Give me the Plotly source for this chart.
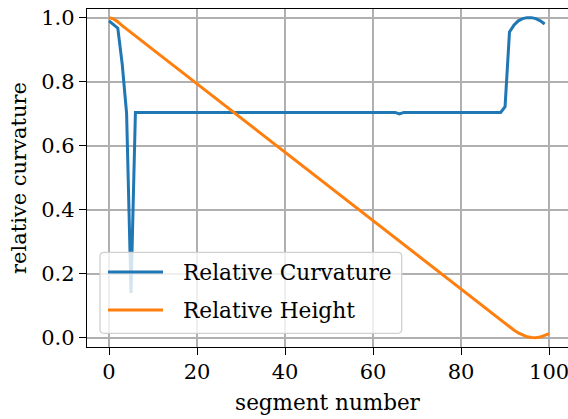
import plotly.graph_objects as go

# Relative curvature per segment
curv_segment = [0, 1, 2, 3, 4, 5, 6, 65, 66, 67, 89, 90, 91, 92, 93, 94, 95, 96, 97, 98, 99]
curv_value = [0.99, 0.979, 0.967, 0.855, 0.70, 0.14, 0.704, 0.704, 0.699, 0.704, 0.704,
              0.722, 0.955, 0.976, 0.99, 0.997, 1.0, 1.0, 0.997, 0.99, 0.98]

# Relative height per segment
height_segment = [0, 1, 2, 3, 10, 20, 30, 40, 50, 60, 70, 80, 90, 92, 93, 94, 95, 96, 97, 98, 99, 100]
height_value = [1.0, 0.996, 0.987, 0.975, 0.900, 0.793, 0.687, 0.580, 0.473, 0.366, 0.259,
                0.153, 0.046, 0.024, 0.015, 0.008, 0.003, 0.0005, 0.0, 0.002, 0.007, 0.013]

x_ticks = [0, 20, 40, 60, 80, 100]
y_ticks = [0.0, 0.2, 0.4, 0.6, 0.8, 1.0]
y_tick_text = ["0.0", "0.2", "0.4", "0.6", "0.8", "1.0"]

series_names = ["Relative Curvature", "Relative Height"]
BLUE = "#1f77b4"
ORANGE = "#ff7f0e"
FONT = "DejaVu Serif"

W, H = 568, 419
ML, MR, MT, MB = 87, 0, 9, 72
PW, PH = W - ML - MR, H - MT - MB

fig = go.Figure()
fig.add_trace(go.Scatter(x=curv_segment, y=curv_value, mode="lines", name=series_names[0],
                         line=dict(color=BLUE, width=3), showlegend=False))
fig.add_trace(go.Scatter(x=height_segment, y=height_value, mode="lines", name=series_names[1],
                         line=dict(color=ORANGE, width=3), showlegend=False))


def px_x(p):
    return (p - ML) / PW


def px_y(p):
    return (H - MB - p) / PH


# legend frame (rounded, translucent)
lx0, lx1, ly0, ly1 = px_x(100), px_x(401.7), px_y(333.3), px_y(252.3)
rx, ry = 4 / PW, 4 / PH
path = (f"M {lx0+rx},{ly0} L {lx1-rx},{ly0} Q {lx1},{ly0} {lx1},{ly0+ry} "
        f"L {lx1},{ly1-ry} Q {lx1},{ly1} {lx1-rx},{ly1} "
        f"L {lx0+rx},{ly1} Q {lx0},{ly1} {lx0},{ly1-ry} "
        f"L {lx0},{ly0+ry} Q {lx0},{ly0} {lx0+rx},{ly0} Z")
shapes = [dict(type="path", path=path, xref="paper", yref="paper", layer="above",
               fillcolor="rgba(255,255,255,0.8)", line=dict(color="#d0d0d0", width=1.3))]
annotations = []
for name, color, yp in [(series_names[0], BLUE, 272), (series_names[1], ORANGE, 310)]:
    shapes.append(dict(type="line", xref="paper", yref="paper", layer="above",
                       x0=px_x(108), x1=px_x(163), y0=px_y(yp), y1=px_y(yp),
                       line=dict(color=color, width=3)))
    annotations.append(dict(text=name, xref="paper", yref="paper", x=px_x(181), y=px_y(yp),
                            xanchor="left", yanchor="middle", showarrow=False,
                            font=dict(family=FONT, size=21.7, color="black")))

fig.update_layout(
    width=W, height=H,
    margin=dict(l=ML, r=MR, t=MT, b=MB),
    plot_bgcolor="white", paper_bgcolor="white",
    font=dict(family=FONT, size=21, color="black"),
    shapes=shapes, annotations=annotations,
    xaxis=dict(range=[-5, 104.3], tickvals=x_ticks, ticks="outside", ticklen=7, tickwidth=1.4,
               tickcolor="black", showline=True, linecolor="black", linewidth=1.4, mirror=True,
               showgrid=True, gridcolor="#b0b0b0", gridwidth=1.6, zeroline=False,
               ticklabeloverflow="allow", ticklabelstandoff=-1,
               title=dict(text="segment number", font=dict(family=FONT, size=21.5), standoff=11),
               tickfont=dict(family=FONT, size=21)),
    yaxis=dict(range=[-0.029, 1.027], tickvals=y_ticks, ticktext=y_tick_text, ticks="outside",
               ticklen=7, tickwidth=1.4, tickcolor="black", showline=True, linecolor="black",
               linewidth=1.4, showgrid=True, gridcolor="#b0b0b0", gridwidth=1.6, zeroline=False,
               title=dict(text="relative curvature", font=dict(family=FONT, size=21), standoff=8),
               tickfont=dict(family=FONT, size=21)),
)

fig.write_html("out.html")
